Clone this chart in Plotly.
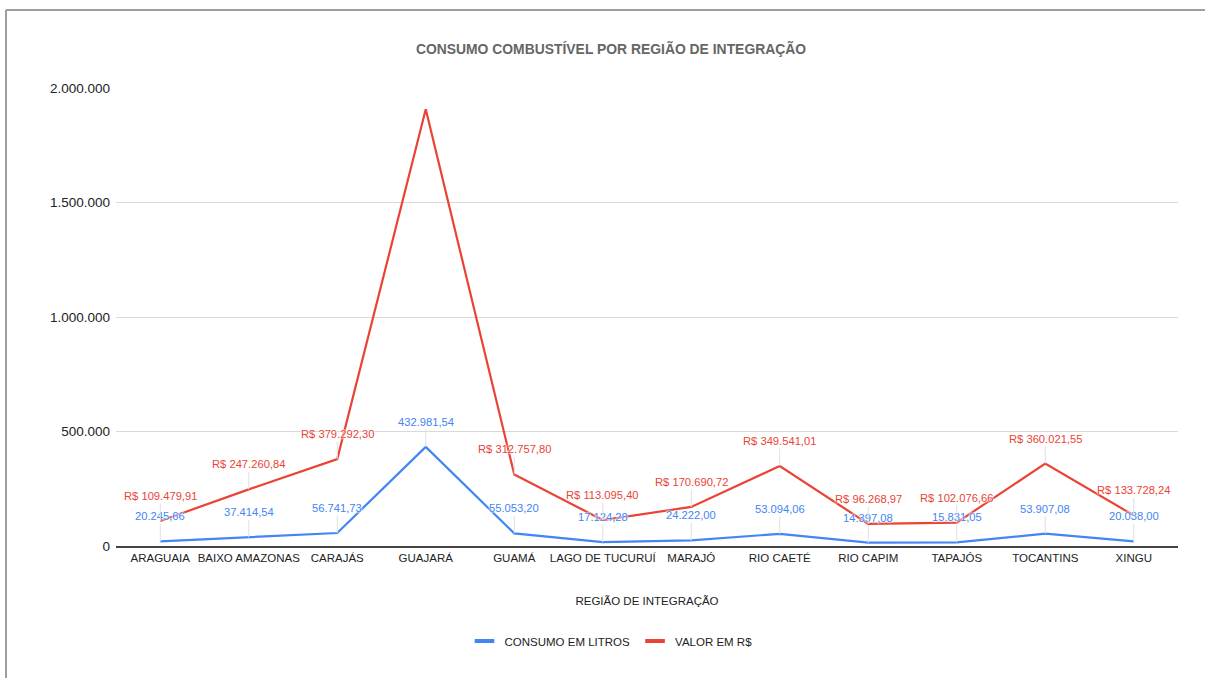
import plotly.graph_objects as go

regioes = ["ARAGUAIA", "BAIXO AMAZONAS", "CARAJÁS", "GUAJARÁ", "GUAMÁ",
           "LAGO DE TUCURUÍ", "MARAJÓ", "RIO CAETÉ", "RIO CAPIM", "TAPAJÓS",
           "TOCANTINS", "XINGU"]
consumo_litros = [20245.66, 37414.54, 56741.73, 432981.54, 55053.20, 17124.28,
                  24222.00, 53094.06, 14397.08, 15831.05, 53907.08, 20038.00]
valor_rs = [109479.91, 247260.84, 379292.30, 1907000.00, 312757.80, 113095.40,
            170690.72, 349541.01, 96268.97, 102076.66, 360021.55, 133728.24]
valor_label_visivel = [True, True, True, False, True, True, True, True, True, True, True, True]
y_ticks = [0, 500000, 1000000, 1500000, 2000000]

BLUE = "#4285F4"
RED = "#EA4335"
FONT = "Liberation Sans, Arial, sans-serif"


def br(v):
    s = f"{v:,.2f}"
    return s.replace(",", "X").replace(".", ",").replace("X", ".")


fig = go.Figure()
fig.add_trace(go.Scatter(x=regioes, y=consumo_litros, mode="lines", name="CONSUMO EM LITROS",
                         line=dict(color=BLUE, width=2.2), showlegend=False))
fig.add_trace(go.Scatter(x=regioes, y=valor_rs, mode="lines", name="VALOR EM R$",
                         line=dict(color=RED, width=2.2), showlegend=False))
# legend entries (short thick dash like the reference)
for nome, cor in [("CONSUMO EM LITROS", BLUE), ("VALOR EM R$", RED)]:
    fig.add_trace(go.Scatter(x=[None], y=[None], mode="markers", name=nome,
                             marker=dict(symbol="line-ew", size=14, color=cor,
                                         line=dict(color=cor, width=4))))

halo = "0px 0px 2px white, 0px 0px 2px white, 0px 0px 2px white"
annotations = []
for r, v in zip(regioes, consumo_litros):
    annotations.append(dict(x=r, y=v, text=br(v), showarrow=True, arrowhead=0, arrowwidth=1,
                            arrowcolor="#e0e0e0", ax=0, ay=-25, standoff=0,
                            font=dict(family=FONT, size=11.2, color=BLUE, shadow=halo)))
for r, v, vis in zip(regioes, valor_rs, valor_label_visivel):
    if not vis:
        continue
    annotations.append(dict(x=r, y=v, text="R$ " + br(v), showarrow=True, arrowhead=0, arrowwidth=1,
                            arrowcolor="#e0e0e0", ax=0, ay=-25, standoff=0,
                            font=dict(family=FONT, size=11.2, color=RED, shadow=halo)))

L, R, T, B = 116, 1178, 88, 546
PW, PH = R - L, B - T


def px(x):
    return (x - L) / PW


def py(y):
    return (B - y) / PH


shapes = [
    dict(type="line", xref="paper", yref="paper", x0=px(6), x1=px(1210), y0=py(10), y1=py(10),
         line=dict(color="#9e9e9e", width=2)),
    dict(type="line", xref="paper", yref="paper", x0=px(6), x1=px(6), y0=py(10), y1=py(690),
         line=dict(color="#9e9e9e", width=2)),
]

fig.update_layout(
    width=1205, height=678, autosize=False,
    margin=dict(l=L, r=1205 - R, t=T, b=678 - B, autoexpand=False),
    paper_bgcolor="white", plot_bgcolor="white",
    separators=",.",
    font=dict(family=FONT, size=11.5, color="#222222"),
    title=dict(text="CONSUMO COMBUSTÍVEL POR REGIÃO DE INTEGRAÇÃO", x=611 / 1205, xanchor="center",
               y=1 - 49 / 678, yanchor="middle", yref="container",
               font=dict(family=FONT, size=13.9, color="#666666", weight="bold")),
    xaxis=dict(type="category", range=[-0.5, len(regioes) - 0.5], showgrid=False,
               showline=True, linecolor="#444444", linewidth=1.5, ticks="",
               tickangle=0, automargin=False,
               tickfont=dict(size=11.5, color="#222222"),
               title=dict(text="REGIÃO DE INTEGRAÇÃO", standoff=34, font=dict(size=11.5, color="#222222"))),
    yaxis=dict(range=[0, 2000000], tickvals=y_ticks, tickformat=",d", showgrid=True,
               gridcolor="#d9d9d9", gridwidth=1, zeroline=False, showline=False, ticks="",
               automargin=False,
               ticklabelstandoff=5, tickfont=dict(size=13.5, color="#222222")),
    legend=dict(orientation="h", x=px(611), xanchor="center",
                y=py(641), yanchor="middle",
                font=dict(size=11.5, color="#222222"), itemwidth=30),
    annotations=annotations,
    shapes=shapes,
)

fig.write_html("out.html", config={"displayModeBar": False},
               post_script="document.body.style.margin='0';document.body.style.overflow='hidden';")
